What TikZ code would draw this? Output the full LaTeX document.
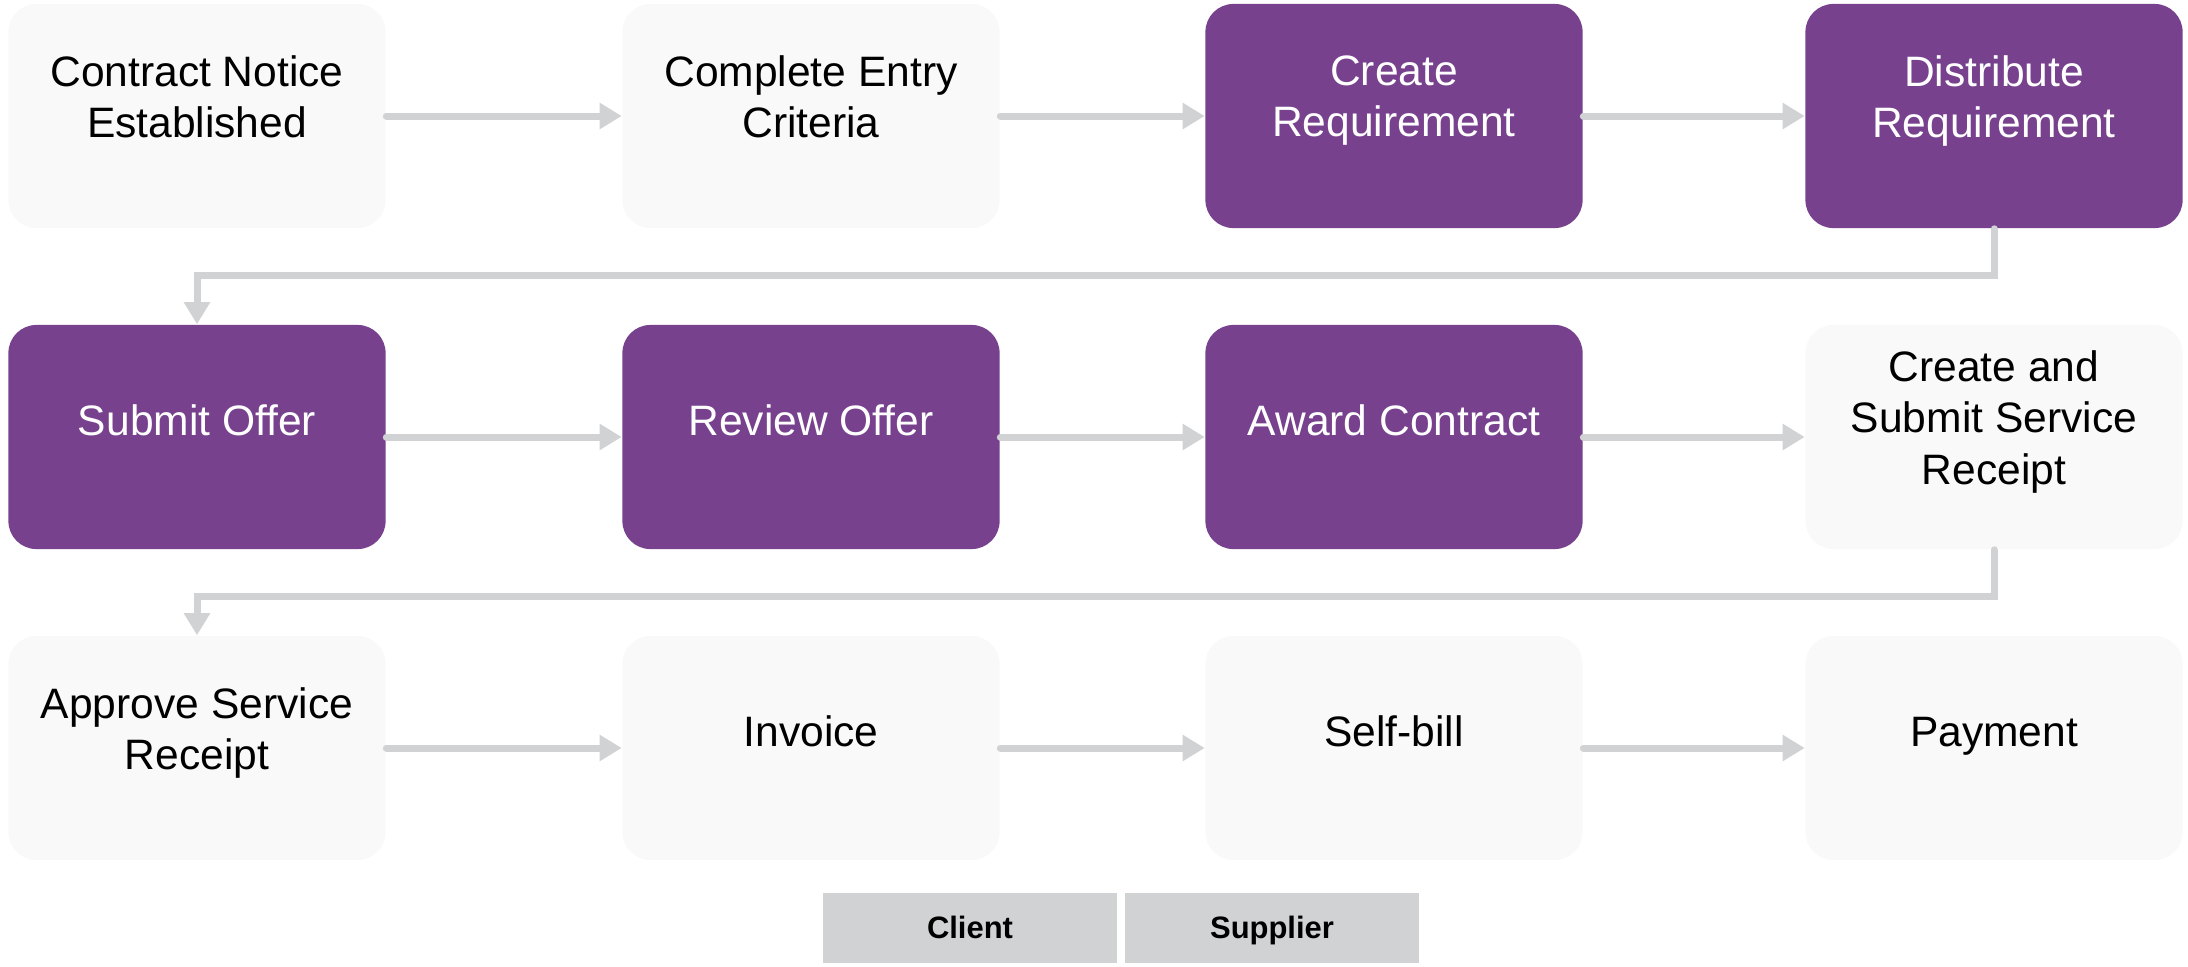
\documentclass[tikz,border=0pt]{standalone}
\usepackage{fontspec}
\setmainfont{Liberation Sans}
\usetikzlibrary{arrows.meta}
\definecolor{supplierpurple}{HTML}{77418E}
\definecolor{clientwhite}{HTML}{F9F9F9}
\definecolor{flowgray}{HTML}{D1D2D4}

\begin{document}
\begin{tikzpicture}[x=0.01cm, y=-0.01cm,
  box/.style={rectangle, rounded corners=0.28cm, minimum width=3.77cm, minimum height=2.24cm, inner sep=0pt},
  clientbox/.style={box, fill=clientwhite},
  supplierbox/.style={box, fill=supplierpurple},
  txt/.style={align=center, font=\fontsize{12.1}{14.6}\selectfont, yshift=0.12cm,
    execute at begin node=\strut, execute at end node=\strut},
  flow/.style={draw=flowgray, line width=0.07cm, line cap=round, -{Triangle[length=0.22cm, width=0.25cm]}},
  key/.style={rectangle, fill=flowgray, minimum width=2.93cm, minimum height=0.70cm, inner sep=0pt,
    text height=1.6ex, text depth=0.5ex, font=\bfseries\fontsize{8.8}{10}\selectfont}]
  \useasboundingbox (0,0) rectangle (2188,966);

  \node[clientbox] (notice) at (197, 116) {};
  \node[clientbox] (entry) at (811, 116) {};
  \node[supplierbox] (create) at (1394, 116) {};
  \node[supplierbox] (distribute) at (1994, 116) {};
  \node[supplierbox] (submit) at (197, 437) {};
  \node[supplierbox] (review) at (811, 437) {};
  \node[supplierbox] (award) at (1394, 437) {};
  \node[clientbox] (receipt) at (1994, 437) {};
  \node[clientbox] (approve) at (197, 748) {};
  \node[clientbox] (invoice) at (811, 748) {};
  \node[clientbox] (selfbill) at (1394, 748) {};
  \node[clientbox] (payment) at (1994, 748) {};

  \node[txt] (noticet) at (notice.center) {Contract Notice\\Established};
  \node[txt] (entryt) at (entry.center) {Complete Entry\\Criteria};
  \node[txt, text=white] (createt) at (create.center) {Create\\Requirement};
  \node[txt, text=white] (distributet) at (distribute.center) {Distribute\\Requirement};
  \node[txt, text=white] (submitt) at (submit.center) {Submit Offer};
  \node[txt, text=white] (reviewt) at (review.center) {Review Offer};
  \node[txt, text=white] (awardt) at (award.center) {Award Contract};
  \node[txt] (receiptt) at (receipt.center) {Create and\\Submit Service\\Receipt};
  \node[txt] (approvet) at (approve.center) {Approve Service\\Receipt};
  \node[txt] (invoicet) at (invoice.center) {Invoice};
  \node[txt] (selfbillt) at (selfbill.center) {Self-bill};
  \node[txt] (paymentt) at (payment.center) {Payment};

  \coordinate (turn1) at (1994, 275);
  \coordinate (turn2) at (1994, 596);

  \draw[flow] (notice) -- (entry);
  \draw[flow] (entry) -- (create);
  \draw[flow] (create) -- (distribute);
  \draw[flow] (distribute.south) -- (turn1) -| (submit.north);
  \draw[flow] (submit) -- (review);
  \draw[flow] (review) -- (award);
  \draw[flow] (award) -- (receipt);
  \draw[flow] (receipt.south) -- (turn2) -| (approve.north);
  \draw[flow] (approve) -- (invoice);
  \draw[flow] (invoice) -- (selfbill);
  \draw[flow] (selfbill) -- (payment);

  \node[key] (client) at (970, 928) {Client};
  \node[key] (supplier) at (1272, 928) {Supplier};
\end{tikzpicture}
\end{document}
